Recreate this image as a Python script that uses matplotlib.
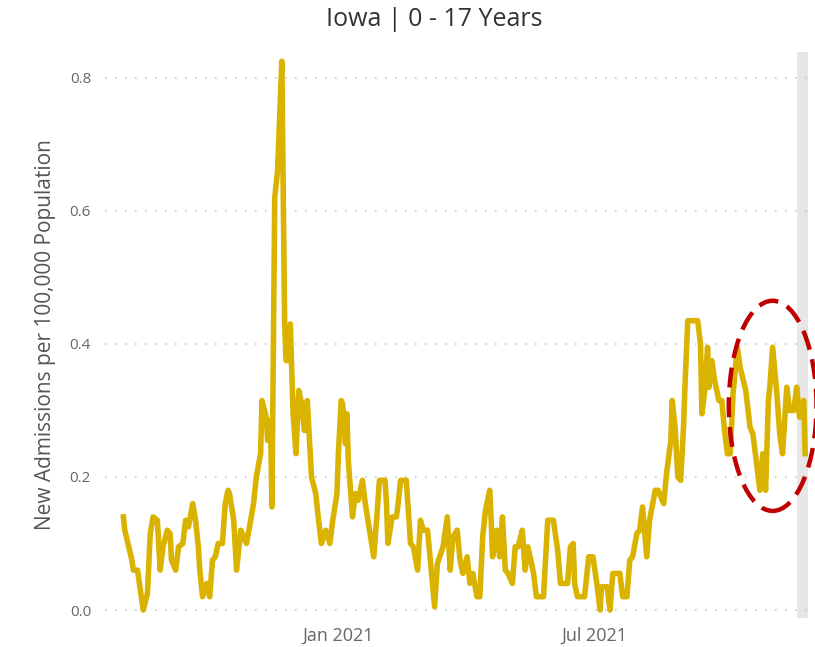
import datetime as dt
import matplotlib
matplotlib.use("Agg")
import matplotlib.pyplot as plt
import matplotlib.dates as mdates
from matplotlib.patches import Ellipse

start = dt.date(2020, 8, 1)

# days after start
days = [1, 2, 7, 8, 11, 15, 18, 20, 22, 25, 27, 29, 32, 34, 35, 38, 40, 43, 45, 47,
        50, 52, 54, 55, 57, 60, 62, 64, 66, 68, 71, 73, 75, 76, 79, 81, 84, 88, 91, 93,
        95, 98, 99, 102, 103, 105, 106, 108, 110, 113, 115, 116, 117, 119, 121, 123, 125, 127, 129, 131,
        134, 137, 139, 141, 144, 147, 149, 152, 153, 155, 156, 158, 159, 160, 163, 165, 167, 170, 172, 175,
        178, 180, 182, 186, 187, 188, 191, 194, 195, 197, 201, 204, 206, 209, 211, 213, 216, 218, 221, 223,
        227, 230, 232, 234, 237, 239, 241, 244, 246, 248, 251, 253, 255, 257, 260, 261, 262, 265, 267, 269,
        271, 273, 276, 278, 280, 283, 285, 287, 291, 293, 298, 301, 305, 308, 310, 315, 317, 319, 320, 322,
        327, 330, 333, 336, 338, 339, 343, 345, 347, 352, 354, 357, 359, 361, 364, 366, 368, 371, 373, 377,
        379, 383, 385, 388, 389, 391, 393, 395, 397, 398, 400, 407, 409, 410, 412, 414, 415, 417, 419, 422,
        424, 426, 428, 430, 432, 435, 437, 441, 444, 446, 449, 451, 453, 455, 457, 458, 460, 463, 465, 467,
        470, 472, 475, 477, 479, 482, 483]

rate = [0.14, 0.12, 0.075, 0.06, 0.06, 0.0, 0.025, 0.115, 0.14, 0.135, 0.06, 0.095, 0.12, 0.115, 0.075, 0.06, 0.095, 0.1, 0.135, 0.125,
        0.16, 0.135, 0.095, 0.06, 0.02, 0.04, 0.02, 0.075, 0.08, 0.1, 0.1, 0.16, 0.18, 0.175, 0.135, 0.06, 0.12, 0.1, 0.135, 0.16,
        0.2, 0.235, 0.315, 0.29, 0.255, 0.285, 0.155, 0.62, 0.66, 0.825, 0.43, 0.375, 0.375, 0.43, 0.295, 0.235, 0.33, 0.31, 0.27, 0.315,
        0.2, 0.175, 0.135, 0.1, 0.12, 0.1, 0.135, 0.175, 0.235, 0.315, 0.31, 0.25, 0.295, 0.225, 0.14, 0.175, 0.165, 0.195, 0.16, 0.12,
        0.08, 0.135, 0.195, 0.195, 0.16, 0.1, 0.14, 0.14, 0.155, 0.195, 0.195, 0.1, 0.095, 0.06, 0.135, 0.12, 0.12, 0.075, 0.005, 0.07,
        0.095, 0.14, 0.06, 0.11, 0.12, 0.075, 0.055, 0.08, 0.04, 0.055, 0.02, 0.02, 0.11, 0.15, 0.18, 0.135, 0.08, 0.12, 0.08, 0.14,
        0.06, 0.055, 0.04, 0.095, 0.095, 0.12, 0.06, 0.095, 0.055, 0.02, 0.02, 0.135, 0.135, 0.09, 0.04, 0.04, 0.095, 0.1, 0.04, 0.02,
        0.02, 0.08, 0.08, 0.035, 0.0, 0.035, 0.035, 0.0, 0.055, 0.055, 0.02, 0.02, 0.075, 0.08, 0.115, 0.12, 0.155, 0.08, 0.135, 0.18,
        0.18, 0.16, 0.205, 0.255, 0.315, 0.275, 0.2, 0.195, 0.275, 0.335, 0.435, 0.435, 0.4, 0.295, 0.33, 0.395, 0.335, 0.375, 0.345, 0.315,
        0.315, 0.27, 0.235, 0.235, 0.325, 0.395, 0.365, 0.33, 0.275, 0.265, 0.215, 0.18, 0.235, 0.18, 0.315, 0.335, 0.395, 0.325, 0.265, 0.235,
        0.335, 0.3, 0.3, 0.335, 0.29, 0.315, 0.235]

dates = [start + dt.timedelta(days=d) for d in days]
yticks = [0.0, 0.2, 0.4, 0.6, 0.8]
xtick_dates = [dt.date(2021, 1, 1), dt.date(2021, 7, 1)]
xtick_labels = ["Jan 2021", "Jul 2021"]

plt.rcParams['font.family'] = ['Open Sans', 'DejaVu Sans']

fig = plt.figure(figsize=(8.15, 6.47), dpi=100)
ax = fig.add_axes([105 / 815, 29 / 647, 703 / 815, 566 / 647])

ax.axvspan(start + dt.timedelta(days=477), start + dt.timedelta(days=486),
           color="#E6E6E6", zorder=0, lw=0)
ax.plot(dates, rate, color="#D9B300", lw=4, solid_joinstyle="round", zorder=3)

ax.set_xlim(start - dt.timedelta(days=12), start + dt.timedelta(days=485))
ax.set_ylim(-0.012, 0.839)

ax.set_yticks(yticks)
ax.set_yticklabels([f"{v:.1f}" for v in yticks])
ax.set_xticks(xtick_dates)
ax.set_xticklabels(xtick_labels)
ax.tick_params(length=0, labelsize=11, colors="#666666", pad=10)
ax.tick_params(axis="x", labelsize=13, pad=6)
ax.grid(axis="y", color="#C8C8C8", linestyle=(0, (1, 5)), lw=1.2)
for s in ax.spines.values():
    s.set_visible(False)

ax.set_ylabel("New Admissions per 100,000 Population", fontsize=15, color="#555555", labelpad=10)
fig.text(434 / 815, 1 - 20 / 647, "Iowa | 0 - 17 Years", ha="center", va="center",
         fontsize=18, color="#333333")

cx = mdates.date2num(start + dt.timedelta(days=460))
ell = Ellipse((cx, 0.307), 62, 0.316, fill=False, edgecolor="#C00000",
              lw=3.2, linestyle=(0, (4.5, 2.2)), clip_on=False, zorder=5)
ax.add_patch(ell)

fig.savefig("out.png", dpi=100)
